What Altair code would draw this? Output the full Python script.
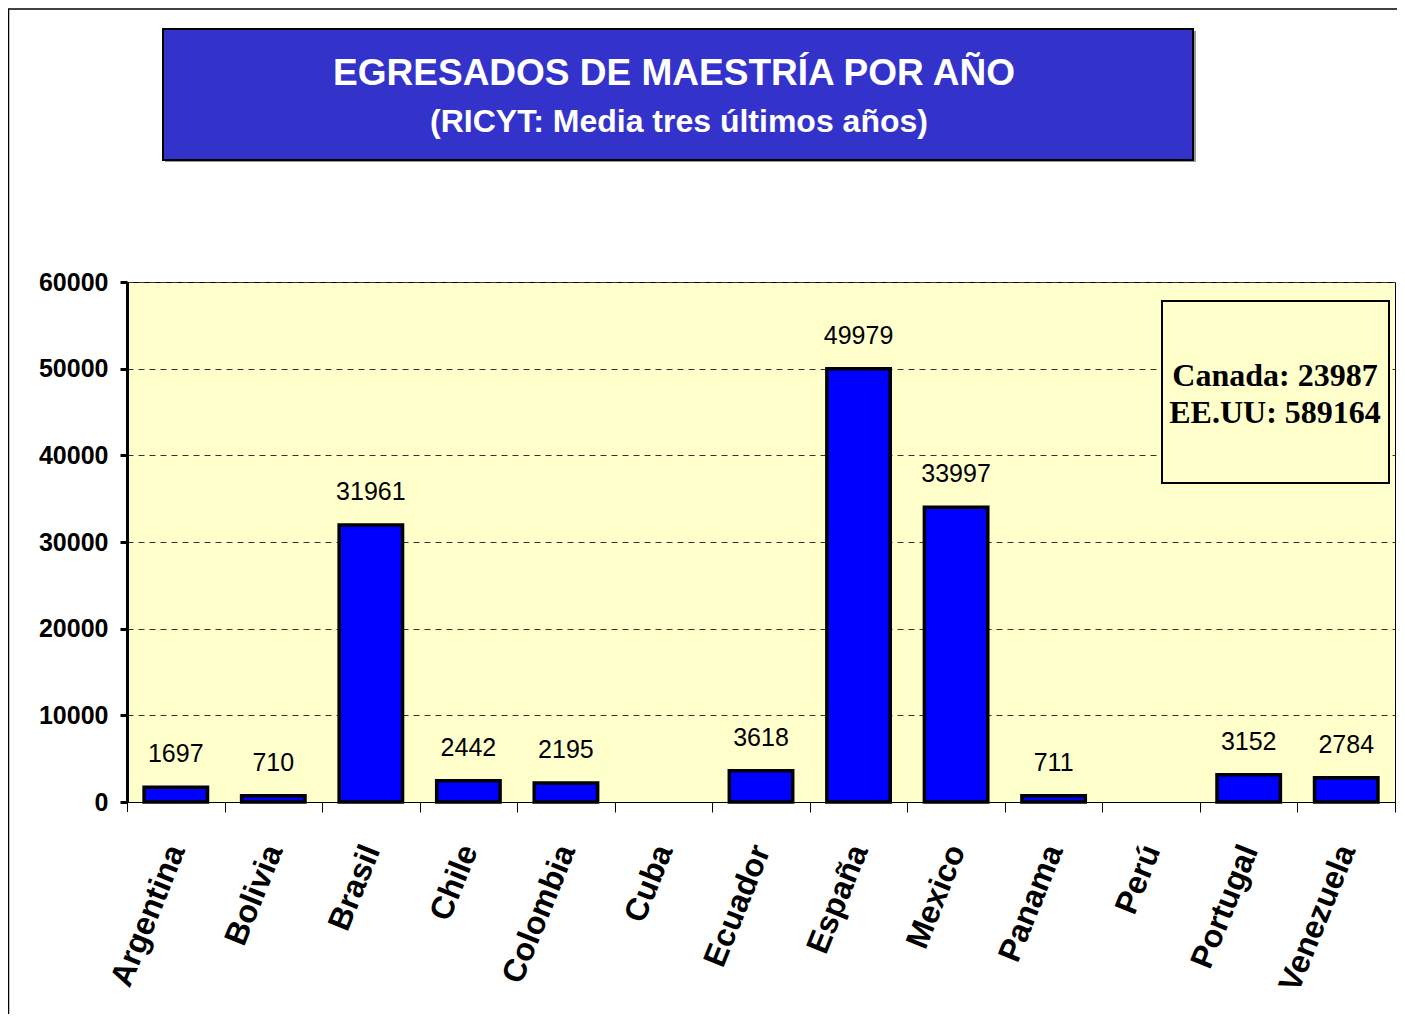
import altair as alt
import pandas as pd

paises = ["Argentina", "Bolivia", "Brasil", "Chile", "Colombia", "Cuba", "Ecuador",
          "España", "Mexico", "Panama", "Perú", "Portugal", "Venezuela"]
valores = [1697, 710, 31961, 2442, 2195, None, 3618, 49979, 33997, 711, None, 3152, 2784]
titulo = "EGRESADOS DE MAESTRÍA POR AÑO"
subtitulo = "(RICYT: Media tres últimos años)"
nota = ["Canada: 23987", "EE.UU: 589164"]
y_ticks = [0, 10000, 20000, 30000, 40000, 50000, 60000]

df = pd.DataFrame({"pais": paises, "valor": valores})

W = 1268
H = 520
STEP = W / len(paises)
SANS = "Liberation Sans"
SERIF = "Liberation Serif"

x_enc = alt.X("pais:N", sort=paises,
              scale=alt.Scale(domain=paises, paddingInner=0.35, paddingOuter=0.175),
              axis=alt.Axis(title=None, labelAngle=-68, labelAlign="right", labelBaseline="middle",
                            labelFont=SANS, labelFontSize=32, labelFontWeight="bold",
                            labelColor="black", labelPadding=34,
                            tickOffset=STEP / 2, labelOffset=-STEP / 2,
                            tickSize=10, tickColor="black", tickWidth=1,
                            domainColor="black", domainWidth=1, grid=False, labelOverlap=False))
y_enc = alt.Y("valor:Q",
              scale=alt.Scale(domain=[0, 60000], nice=False, zero=True),
              axis=alt.Axis(title=None, values=y_ticks, format="d",
                            labelFont=SANS, labelFontSize=25, labelFontWeight="bold",
                            labelColor="black", labelPadding=12,
                            tickSize=7, tickWidth=3, tickColor="black",
                            domainColor="black", domainWidth=3,
                            grid=True, gridColor="#333333", gridDash=[6, 5], gridWidth=1))

base = alt.Chart(df).transform_filter("isValid(datum.valor)")

bars = base.mark_bar(color="#0000FF", stroke="black", strokeWidth=3.5).encode(x=x_enc, y=y_enc)
labels = base.mark_text(font=SANS, fontSize=25, color="black", baseline="alphabetic", dy=-25).encode(
    x=alt.X("pais:N", sort=paises), y="valor:Q", text=alt.Text("valor:Q", format="d"))

one = pd.DataFrame({"k": [0]})

# first x tick at the axis corner
tick0 = alt.Chart(one).mark_rule(color="black", strokeWidth=1).encode(
    x=alt.value(0.5), y=alt.value(H), y2=alt.value(H + 10))

# title box
shadow = alt.Chart(one).mark_rect(color="#999999").encode(
    x=alt.value(38), x2=alt.value(1069), y=alt.value(-251), y2=alt.value(-120))
tbox = alt.Chart(one).mark_rect(color="#3333CC", stroke="black", strokeWidth=2).encode(
    x=alt.value(36), x2=alt.value(1066), y=alt.value(-253), y2=alt.value(-122))
t1 = alt.Chart(pd.DataFrame({"t": [titulo]})).mark_text(
    font=SANS, fontSize=37, fontWeight="bold", color="white", align="center", baseline="alphabetic").encode(
    x=alt.value(547), y=alt.value(-197), text="t:N")
t2 = alt.Chart(pd.DataFrame({"t": [subtitulo]})).mark_text(
    font=SANS, fontSize=32, fontWeight="bold", color="white", align="center", baseline="alphabetic").encode(
    x=alt.value(552), y=alt.value(-150), text="t:N")

# note box
nbox = alt.Chart(one).mark_rect(color="#FFFFCC", stroke="black", strokeWidth=2).encode(
    x=alt.value(W - 233), x2=alt.value(W - 6), y=alt.value(19), y2=alt.value(201))
n1 = alt.Chart(pd.DataFrame({"t": [nota[0]]})).mark_text(
    font=SERIF, fontSize=32, fontWeight="bold", color="black", align="center", baseline="alphabetic").encode(
    x=alt.value(W - 120), y=alt.value(104), text="t:N")
n2 = alt.Chart(pd.DataFrame({"t": [nota[1]]})).mark_text(
    font=SERIF, fontSize=32, fontWeight="bold", color="black", align="center", baseline="alphabetic").encode(
    x=alt.value(W - 120), y=alt.value(141), text="t:N")

# outer frame
fl = alt.Chart(one).mark_rule(color="black", strokeWidth=1.5).encode(
    x=alt.value(-118.5), y=alt.value(-273), y2=alt.value(760))
ft = alt.Chart(one).mark_rule(color="black", strokeWidth=1.5).encode(
    x=alt.value(-119), x2=alt.value(W + 20), y=alt.value(-273))

chart = alt.layer(bars, labels, tick0, shadow, tbox, t1, t2, nbox, n1, n2, fl, ft).properties(
    width=W, height=H,
    autosize=alt.AutoSizeParams(type="none"),
    padding={"left": 119, "top": 274, "right": 2, "bottom": 212},
    background="white",
).configure_view(fill="#FFFFCC", stroke="black", strokeWidth=1)

chart.save("out.html", embed_options={"renderer": "svg", "actions": False})
